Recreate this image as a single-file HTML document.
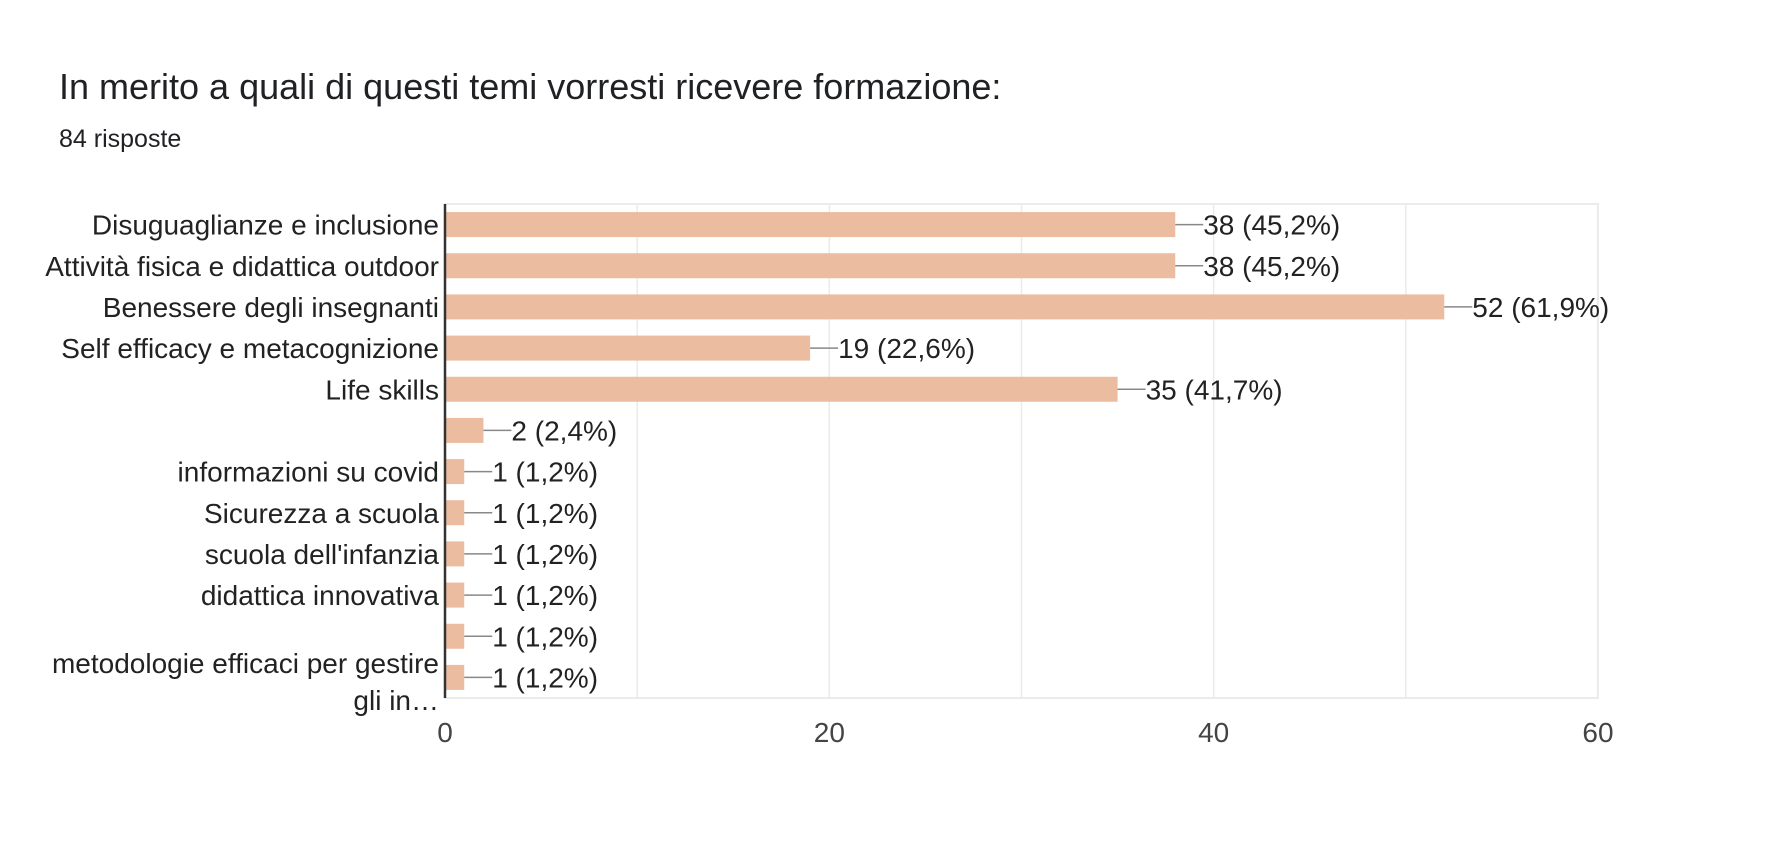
<!DOCTYPE html>
<html><head><meta charset="utf-8"><style>
html,body{margin:0;padding:0;background:#fff;width:1776px;height:844px;overflow:hidden;font-family:"Liberation Sans",Arial,sans-serif}
</style></head><body>
<svg id="chart" width="1776" height="844" xmlns="http://www.w3.org/2000/svg" font-family="Liberation Sans, Arial, sans-serif">
<text x="59" y="99" font-size="36" fill="#202124">In merito a quali di questi temi vorresti ricevere formazione:</text>
<text x="59" y="147" font-size="25" fill="#202124">84 risposte</text>
<g id="grid"></g><g id="bars"></g><g id="labels"></g>
</svg>
<script>
const categories=["Disuguaglianze e inclusione","Attività fisica e didattica outdoor","Benessere degli insegnanti","Self efficacy e metacognizione","Life skills","","informazioni su covid","Sicurezza a scuola","scuola dell'infanzia","didattica innovativa","","metodologie efficaci per gestire|gli in…"];
const values=[38,38,52,19,35,2,1,1,1,1,1,1];
const valueLabels=["38 (45,2%)","38 (45,2%)","52 (61,9%)","19 (22,6%)","35 (41,7%)","2 (2,4%)","1 (1,2%)","1 (1,2%)","1 (1,2%)","1 (1,2%)","1 (1,2%)","1 (1,2%)"];
const ticks=[0,20,40,60];
const gridVals=[10,20,30,40,50,60];

const NS="http://www.w3.org/2000/svg";
const X0=445,X1=1598,XMAX=60,TOP=204,BOT=698;
const rowH=(BOT-TOP)/categories.length;
const x=v=>X0+(X1-X0)*v/XMAX;
const yc=i=>TOP+rowH*(i+0.5);
function mk(tag,attrs,parent){const e=document.createElementNS(NS,tag);for(const k in attrs)e.setAttribute(k,attrs[k]);parent.appendChild(e);return e;}
const grid=document.getElementById('grid'),bars=document.getElementById('bars'),labels=document.getElementById('labels');
const frame=mk('rect',{x:X0,y:TOP,width:X1-X0,height:BOT-TOP,fill:'none',stroke:'#ebebeb','stroke-width':2},grid);


gridVals.forEach(v=>{const l=mk('line',{x1:x(v),x2:x(v),y1:TOP,y2:BOT,stroke:'#ebebeb','stroke-width':1.5},grid);

});
ticks.forEach(v=>{const t=mk('text',{x:x(v),y:742,'font-size':28,'text-anchor':'middle',fill:'#444'},labels);t.textContent=v;

});
values.forEach((v,i)=>{
 const b=mk('rect',{x:X0,y:yc(i)-12.5,width:x(v)-X0,height:25,fill:'#ebbc9f'},bars);
 
 
 const ln=mk('line',{x1:x(v),x2:x(v)+28,y1:yc(i),y2:yc(i),stroke:'#888','stroke-width':1.5},bars);
 
 
 const t=mk('text',{x:x(v)+28,y:yc(i)+10,'font-size':28,fill:'#222'},labels);t.textContent=valueLabels[i];
 
 
 const c=categories[i];
 if(c){const parts=c.split('|');
  parts.forEach((p,j)=>{const ct=mk('text',{x:439,y:yc(i)+10+(j-(parts.length-1)/2)*37+(parts.length>1?4:0),'font-size':28,'text-anchor':'end',fill:'#222'},labels);ct.textContent=p;
  
  });}
});
const ax=mk('line',{x1:X0,x2:X0,y1:TOP,y2:BOT,stroke:'#333','stroke-width':2.5},labels);


</script>
</body></html>
